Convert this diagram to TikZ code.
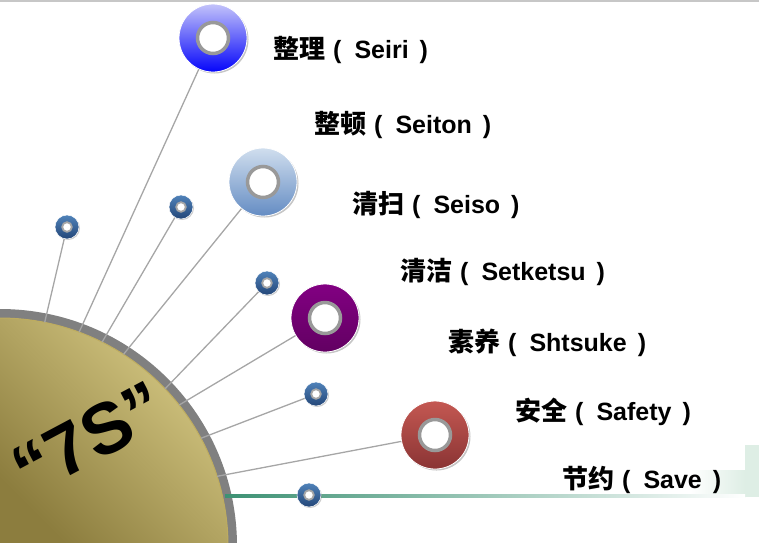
\documentclass[tikz,border=0pt]{standalone}
\usepackage{fontspec}
\setmainfont{Liberation Sans}
\newfontfamily\cjk{Noto Sans CJK SC}
\usetikzlibrary{shadows}
\usetikzlibrary{calc}

\definecolor{ringgray}{RGB}{128,128,128}
\definecolor{discedge}{RGB}{190,172,95}
\definecolor{discll}{RGB}{140,125,62}
\definecolor{discmid}{RGB}{205,190,118}
\definecolor{discur}{RGB}{216,203,134}
\definecolor{greenline}{RGB}{60,145,115}
\definecolor{blutop}{RGB}{195,195,250}
\definecolor{blubot}{RGB}{5,5,250}
\definecolor{skytop}{RGB}{208,222,238}
\definecolor{skybot}{RGB}{100,140,195}
\definecolor{purtop}{RGB}{130,0,130}
\definecolor{purbot}{RGB}{98,0,98}
\definecolor{redtop}{RGB}{196,88,82}
\definecolor{redbot}{RGB}{138,52,52}
\definecolor{steeltop}{RGB}{80,130,185}
\definecolor{steelbot}{RGB}{35,70,120}
\definecolor{bldg}{RGB}{222,238,229}

\tikzset{
  bigring/.style={circle, inner sep=0pt, minimum size=68pt,
    draw=white, line width=0.8pt,
    drop shadow={shadow xshift=1.5pt, shadow yshift=-1.5pt, opacity=0.45},
    path picture={\draw[black!40, line width=3.5pt, fill=white]
      (path picture bounding box.center) circle (15.5);}},
  smallring/.style={circle, inner sep=0pt, minimum size=24pt,
    top color=steeltop, bottom color=steelbot,
    draw=white, line width=0.5pt,
    drop shadow={shadow xshift=1pt, shadow yshift=-1pt, opacity=0.4},
    path picture={\draw[black!35, line width=1.8pt, fill=white]
      (path picture bounding box.center) circle (4.8);}},
  spoke/.style={black!35, line width=1.3pt},
  sname/.style={anchor=west, inner sep=0pt,
    font=\bfseries\fontsize{25}{29}\selectfont}
}

\begin{document}
\begin{tikzpicture}[x=1pt, y=-1pt]
\useasboundingbox (0,0) rectangle (759,542);
\clip (0,0) rectangle (759,542);
\draw[black!22, line width=1.5pt] (0,0.75) -- (759,0.75);
\shade[left color=white, right color=bldg] (690,470) rectangle (745,497);
\fill[bldg] (745,445) rectangle (759,497);
\coordinate (O) at (0,546);
\draw[ringgray, line width=9pt] (O) circle (232.5);
\begin{scope}
\clip (O) circle (228);
\shade[top color=discur, middle color=discmid, bottom color=discll, shading angle=-45]
  (0,318) rectangle (228,546);
\end{scope}
\draw[discedge, line width=1pt] (O) circle (228);
\shade[left color=greenline, right color=white] (225,494.5) rectangle (745,497.5);

\node[bigring, top color=blutop, bottom color=blubot] (A) at (213,38) {};
\node[smallring] (B) at (67,227) {};
\node[smallring] (C) at (181,207) {};
\node[bigring, top color=skytop, bottom color=skybot] (D) at (263,182) {};
\node[smallring] (E) at (267,283) {};
\node[bigring, top color=purtop, bottom color=purbot] (F) at (325,318) {};
\node[smallring] (G) at (316,394) {};
\node[bigring, top color=redtop, bottom color=redbot] (H) at (435,435) {};
\node[smallring] (I) at (309,495) {};

\foreach \n/\a in {A/69.7, B/78.7, C/63.4, D/57.2, E/43.6, F/38.2, G/28.2, H/17.8} {
  \coordinate (p\n) at ($(O)+(-\a:228)$);
  \draw[spoke] (p\n) -- (\n);
}

\node[sname] (T1) at (273,50) {{\cjk\fontsize{26}{29}\selectfont 整理}\hspace{8pt}(\hspace{13pt}Seiri\hspace{11pt})};
\node[sname] (T2) at (314,125) {{\cjk\fontsize{26}{29}\selectfont 整顿}\hspace{8pt}(\hspace{13pt}Seiton\hspace{11pt})};
\node[sname] (T3) at (352,205) {{\cjk\fontsize{26}{29}\selectfont 清扫}\hspace{8pt}(\hspace{13pt}Seiso\hspace{11pt})};
\node[sname] (T4) at (400,272) {{\cjk\fontsize{26}{29}\selectfont 清洁}\hspace{8pt}(\hspace{13pt}Setketsu\hspace{11pt})};
\node[sname] (T5) at (448,343) {{\cjk\fontsize{26}{29}\selectfont 素养}\hspace{8pt}(\hspace{13pt}Shtsuke\hspace{11pt})};
\node[sname] (T6) at (515,412) {{\cjk\fontsize{26}{29}\selectfont 安全}\hspace{8pt}(\hspace{13pt}Safety\hspace{11pt})};
\node[sname] (T7) at (562,480) {{\cjk\fontsize{26}{29}\selectfont 节约}\hspace{8pt}(\hspace{13pt}Save\hspace{11pt})};

\node[rotate=28, font=\bfseries\fontsize{72}{78}\selectfont] (X) at (89,438) {“7S”};
\end{tikzpicture}
\end{document}
